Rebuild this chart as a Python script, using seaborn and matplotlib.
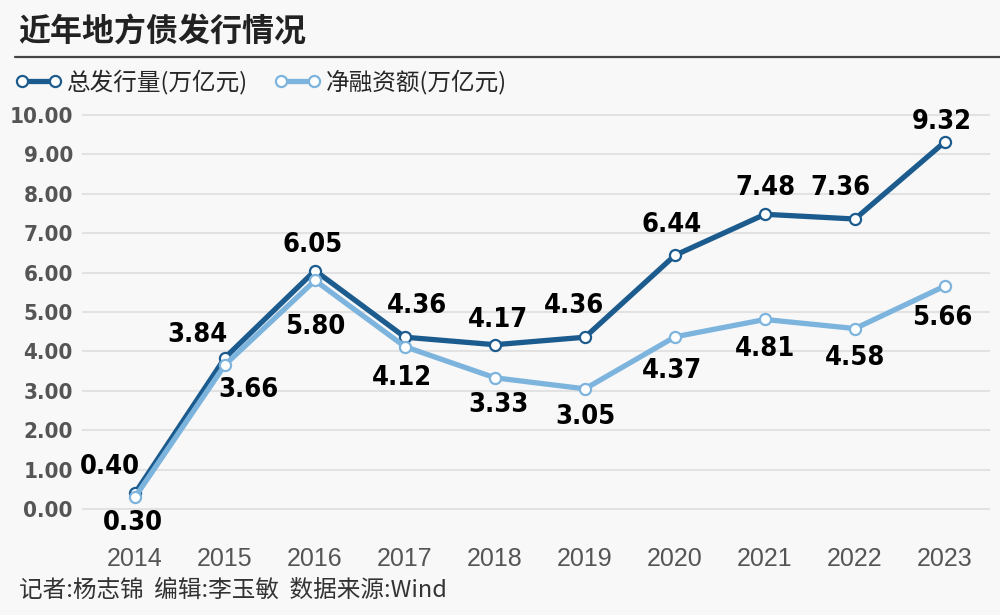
import matplotlib
matplotlib.use("Agg")
import matplotlib.pyplot as plt
from matplotlib.lines import Line2D
from matplotlib import font_manager
import pandas as pd
import seaborn as sns

# ---- data ----
years = ["2014", "2015", "2016", "2017", "2018", "2019", "2020", "2021", "2022", "2023"]
total_issue = [0.40, 3.84, 6.05, 4.36, 4.17, 4.36, 6.44, 7.48, 7.36, 9.32]
net_financing = [0.30, 3.66, 5.80, 4.12, 3.33, 3.05, 4.37, 4.81, 4.58, 5.66]
series_names = ["总发行量(万亿元)", "净融资额(万亿元)"]
title = "近年地方债发行情况"
footer = "记者:杨志锦  编辑:李玉敏  数据来源:Wind"

# label offsets in pixels (dx, dy), tuned by eye
total_offsets = [(-25, 26), (-28, 23), (-2, 26), (12, 31), (3, 25),
                 (-11, 31), (-3, 30), (0, 26), (-15, 31), (-3, 20)]
net_offsets = [(-2, -26), (23, -25), (0, -47), (-3, -31), (3, -27),
               (0, -28), (-3, -34), (0, -30), (0, -29), (-3, -32)]

DARK = "#1c5b8e"
LIGHT = "#7db4dd"
BG = "#f8f8f8"
CJK = ["Noto Sans CJK SC", "DejaVu Sans"]
REG = ["Liberation Sans", "DejaVu Sans"]

# the reference uses a condensed bold face for numbers; use DejaVu Sans Condensed if present
cond_path = font_manager.findfont(
    font_manager.FontProperties(family="DejaVu Sans", stretch="condensed", weight="bold"))
if "Condensed" in cond_path:
    num_kw = dict(family=["DejaVu Sans"], fontstretch="condensed")
    lab_size, ytick_size = 19.5, 16
else:
    num_kw = dict(family=REG)
    lab_size, ytick_size = 18.5, 15.5

sns.set_theme(style="white")
plt.rcParams["font.family"] = CJK

df = pd.DataFrame({"year": years, "total": total_issue, "net": net_financing})

fig = plt.figure(figsize=(10, 6.15), dpi=100, facecolor=BG)
ax = fig.add_axes([0.082, 1 - 530 / 615, 0.908, 425 / 615])
ax.set_facecolor(BG)

common = dict(marker="o", markersize=8, markerfacecolor="white",
              markeredgewidth=1.6, linewidth=3.8)
sns.lineplot(data=df, x="year", y="total", ax=ax, color=DARK,
             markeredgecolor=DARK, label=series_names[0], zorder=3, **common)
sns.lineplot(data=df, x="year", y="net", ax=ax, color=LIGHT,
             markeredgecolor=LIGHT, label=series_names[1], zorder=4, **common)

# data labels
for vals, offs in [(total_issue, total_offsets), (net_financing, net_offsets)]:
    for i, (v, off) in enumerate(zip(vals, offs)):
        ax.annotate(f"{v:.2f}", (i, v), xytext=off, textcoords="offset pixels",
                    ha="center", va="center", fontsize=lab_size, fontweight="bold",
                    color="black", zorder=5, **num_kw)

# axes styling
ax.set_xlim(-0.589, 9.5)
ax.set_ylim(-0.533, 10.254)
ax.set_yticks(range(0, 11))
ax.set_yticklabels([f"{t:.2f}" for t in range(0, 11)])
ax.grid(axis="y", color="#e2e2e2", linewidth=1.5)
ax.grid(axis="x", visible=False)
for s in ax.spines.values():
    s.set_visible(False)
ax.tick_params(axis="both", length=0)
ax.tick_params(axis="y", pad=6.5)
ax.tick_params(axis="x", pad=12)
for lab in ax.get_yticklabels():
    lab.set_family(num_kw["family"])
    if "fontstretch" in num_kw:
        lab.set_fontstretch("condensed")
    lab.set_fontweight("bold")
    lab.set_fontsize(ytick_size)
    lab.set_color("#555555")
for lab in ax.get_xticklabels():
    lab.set_family(REG)
    lab.set_fontsize(18)
    lab.set_color("#555555")
ax.set_xlabel("")
ax.set_ylabel("")

# legend at top
handles, labels = ax.get_legend_handles_labels()
ax.legend_.remove()
fig.legend(handles, labels, loc="center left", bbox_to_anchor=(0.015, 1 - 82 / 615),
           ncol=2, frameon=False, numpoints=2, handlelength=2.0,
           handletextpad=0.2, columnspacing=1.1, borderpad=0, borderaxespad=0,
           prop={"family": CJK, "size": 17})

# title, rule and footer
fig.text(0.018, 1 - 33 / 615, title, fontsize=23, fontweight="bold",
         va="center", ha="left", color="#222222", family=CJK)
fig.add_artist(Line2D([0.015, 1.0], [1 - 57 / 615] * 2, color="#444444", lw=1.6))
fig.text(0.019, 1 - 590 / 615, footer, fontsize=17, va="center", ha="left",
         color="#333333", family=CJK)

fig.savefig("out.png", dpi=100, facecolor=BG)
